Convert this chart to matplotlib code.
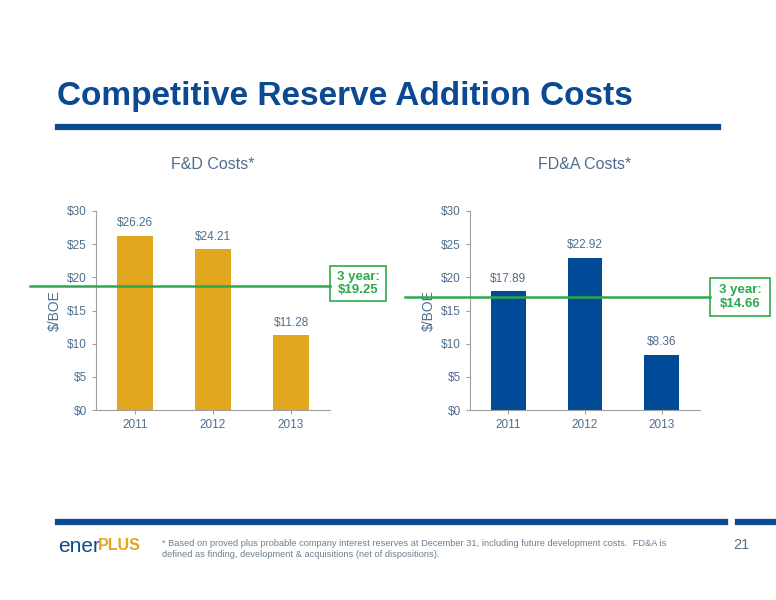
import matplotlib
matplotlib.use('Agg')
import matplotlib.pyplot as plt
from matplotlib.lines import Line2D
from matplotlib.patches import Rectangle

years = ['2011', '2012', '2013']
fd_costs = [26.26, 24.21, 11.28]
fda_costs = [17.89, 22.92, 8.36]
fd_avg_label = '3 year:\n$19.25'
fda_avg_label = '3 year:\n$14.66'
fd_line = 18.7
fda_line = 17.0
yticks = [0, 5, 10, 15, 20, 25, 30]

NAVY = '#0B4A93'
TXT = '#4F6E8E'
GREEN = '#2DA84A'

fig = plt.figure(figsize=(7.76, 6.0), dpi=100)
W, H = 776, 600


def fx(px):
    return px / W


def fy(py):
    return 1 - py / H


fig.text(fx(57), fy(97), 'Competitive Reserve Addition Costs', fontsize=24,
         fontweight='bold', color=NAVY, va='center', family='Liberation Sans')
fig.add_artist(Line2D([fx(58), fx(718)], [fy(127), fy(127)], color=NAVY, lw=4.5))
fig.add_artist(Line2D([fx(58), fx(725)], [fy(522), fy(522)], color=NAVY, lw=4.5))
fig.add_artist(Line2D([fx(738), fx(776)], [fy(522), fy(522)], color=NAVY, lw=4.5))


def panel(left, right, title, values, color, avg, avg_label, line_x0, box):
    ax = fig.add_axes([fx(left), fy(410), fx(right - left), fy(211) - fy(410)])
    x = range(len(years))
    ax.bar(x, values, width=0.45, color=color)
    for i, v in zip(x, values):
        ax.text(i, v + 1.0, f'${v:.2f}', ha='center', va='bottom', fontsize=8.5,
                color=TXT, family='Liberation Sans')
    ax.set_ylim(0, 30)
    ax.set_xlim(-0.5, 2.5)
    ax.set_yticks(yticks)
    ax.set_yticklabels([f'${t}' for t in yticks])
    ax.set_xticks(list(x))
    ax.set_xticklabels(years)
    for s in ['top', 'right']:
        ax.spines[s].set_visible(False)
    for s in ['left', 'bottom']:
        ax.spines[s].set_color('#A0A0A0')
    ax.tick_params(colors='#A0A0A0', labelcolor=TXT, labelsize=8.5, length=3)
    for lab in ax.get_xticklabels() + ax.get_yticklabels():
        lab.set_family('Liberation Sans')
    ax.set_ylabel('$/BOE', color=TXT, fontsize=10, family='Liberation Sans')
    ax.set_title(title, color=TXT, fontsize=11.5, pad=30, family='Liberation Sans')
    yp = 410 - avg / 30 * 199
    fig.add_artist(Line2D([fx(line_x0), fx(box[0])], [fy(yp), fy(yp)], color=GREEN, lw=1.8))
    bx0, by0, bx1, by1 = box
    fig.add_artist(Rectangle((fx(bx0), fy(by1)), fx(bx1 - bx0), fy(by0) - fy(by1),
                             transform=fig.transFigure, fill=False, ec=GREEN, lw=1.2))
    fig.text(fx((bx0 + bx1) / 2), fy((by0 + by1) / 2), avg_label, ha='center', va='center',
             color=GREEN, fontsize=9.5, fontweight='bold', family='Liberation Sans')
    return ax


panel(96, 330, 'F&D Costs*', fd_costs, '#E1A71E', fd_line, fd_avg_label, 30, (330, 266, 386, 301))
panel(470, 700, 'FD&A Costs*', fda_costs, '#004A97', fda_line, fda_avg_label, 405, (710, 278, 770, 316))

fig.text(fx(58), fy(546), 'ener', fontsize=15, color=NAVY, va='center', family='Liberation Sans')
fig.text(fx(98), fy(546), 'PLUS', fontsize=11.5, color='#E1A71E', fontweight='bold', va='center',
         family='Liberation Sans')
fig.text(fx(162), fy(549), '* Based on proved plus probable company interest reserves at December 31, '
         'including future development costs.  FD&A is\ndefined as finding, development & acquisitions '
         '(net of dispositions).', fontsize=6.7, color='#6A7F95', va='center', family='Liberation Sans')
fig.text(fx(733), fy(545), '21', fontsize=10.5, color='#5A6F85', va='center', family='Liberation Sans')

fig.savefig('out.png', dpi=100)
